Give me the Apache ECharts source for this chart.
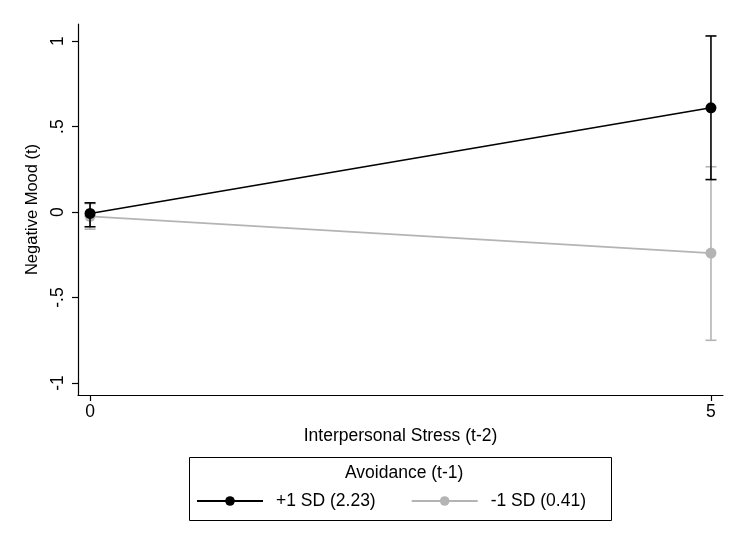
<!DOCTYPE html>
<html>
<head>
<meta charset="utf-8">
<script src="https://cdn.jsdelivr.net/npm/echarts@6/dist/echarts.min.js"></script>
<style>
html,body{margin:0;padding:0;background:#fff;}
#chart{width:733px;height:538px;}
</style>
</head>
<body>
<div id="chart"></div>
<script>
const xValues = [0, 5];
const highMean = [-0.008, 0.61];
const highLow = [-0.086, 0.19];
const highHigh = [0.054, 1.03];
const lowMean = [-0.025, -0.24];
const lowLow = [-0.1, -0.75];
const lowHigh = [0.05, 0.265];
const yTicks = [-1, -0.5, 0, 0.5, 1];
const xTicks = [0, 5];
const seriesNames = ['+1 SD (2.23)', '-1 SD (0.41)'];
const legendTitle = 'Avoidance (t-1)';
const xTitle = 'Interpersonal Stress (t-2)';
const yTitle = 'Negative Mood (t)';

const FONT = 'Liberation Sans, Arial, Helvetica, sans-serif';
const BLACK = '#000000';
const GRAY = '#b4b4b4';
const FS = 17.5;

function fmt(v){
  if (v === 0) return '0';
  let s = String(v);
  s = s.replace(/^0\./, '.').replace(/^-0\./, '-.');
  return s;
}

function errSeries(name, lows, highs, color){
  const data = xValues.map((x,i)=>[x, lows[i], highs[i]]);
  return {
    type: 'custom',
    name: name + ' ci',
    data: data,
    z: color === BLACK ? 4 : 2,
    silent: true,
    renderItem: function(params, api){
      const x = api.value(0);
      const lo = api.coord([x, api.value(1)]);
      const hi = api.coord([x, api.value(2)]);
      const hw = 5.5;
      const st = {stroke: color, lineWidth: 1.6};
      return {
        type: 'group',
        children: [
          {type:'line', shape:{x1:lo[0], y1:lo[1], x2:hi[0], y2:hi[1]}, style: st},
          {type:'line', shape:{x1:lo[0]-hw, y1:lo[1], x2:lo[0]+hw, y2:lo[1]}, style: st},
          {type:'line', shape:{x1:hi[0]-hw, y1:hi[1], x2:hi[0]+hw, y2:hi[1]}, style: st}
        ]
      };
    }
  };
}

const chart = echarts.init(document.getElementById('chart'), null, {renderer:'canvas'});
chart.setOption({
  backgroundColor: '#ffffff',
  animation: false,
  grid: {left: 78, right: 10, top: 24, bottom: 143, containLabel: false},
  xAxis: {
    type: 'value', min: -0.097, max: 5.097,
    name: xTitle, nameLocation: 'middle', nameGap: 32,
    nameTextStyle: {fontFamily: FONT, fontSize: FS, color: '#000'},
    axisLine: {show: true, onZero: false, lineStyle: {color: '#000', width: 1.2}},
    axisTick: {show: true, length: 6, customValues: xTicks, lineStyle: {color: '#000', width: 1.2}},
    axisLabel: {customValues: xTicks, fontFamily: FONT, fontSize: FS, color: '#000', margin: 8, formatter: fmt},
    splitLine: {show: false}
  },
  yAxis: {
    type: 'value', min: -1.07, max: 1.1,
    name: yTitle, nameLocation: 'middle', nameGap: 30,
    nameTextStyle: {fontFamily: FONT, fontSize: 16.5, color: '#000'},
    axisLine: {show: true, onZero: false, lineStyle: {color: '#000', width: 1.2}},
    axisTick: {show: true, length: 6, customValues: yTicks, lineStyle: {color: '#000', width: 1.2}},
    axisLabel: {customValues: yTicks, rotate: 90, fontFamily: FONT, fontSize: FS, color: '#000', margin: 11, formatter: fmt},
    splitLine: {show: false}
  },
  title: {
    text: legendTitle, left: 340, top: 459,
    textStyle: {fontFamily: FONT, fontSize: FS, fontWeight: 'normal', color: '#000'}
  },
  legend: {
    data: seriesNames,
    left: 191, top: 487,
    itemWidth: 66, itemHeight: 12, itemGap: 35,
    textStyle: {fontFamily: FONT, fontSize: FS, color: '#000', padding: [0,0,0,8]}
  },
  graphic: [{
    type: 'rect', left: 187, top: 455,
    shape: {width: 422, height: 63},
    style: {fill: 'none', stroke: '#000', lineWidth: 1}
  }],
  series: [
    errSeries(seriesNames[1], lowLow, lowHigh, GRAY),
    {
      type: 'line', name: seriesNames[1], z: 3,
      data: xValues.map((x,i)=>[x, lowMean[i]]),
      symbol: 'circle', symbolSize: 11,
      lineStyle: {color: GRAY, width: 1.6},
      itemStyle: {color: GRAY},
      emphasis: {disabled: true}
    },
    errSeries(seriesNames[0], highLow, highHigh, BLACK),
    {
      type: 'line', name: seriesNames[0], z: 5,
      data: xValues.map((x,i)=>[x, highMean[i]]),
      symbol: 'circle', symbolSize: 11,
      lineStyle: {color: BLACK, width: 1.6},
      itemStyle: {color: BLACK},
      emphasis: {disabled: true}
    }
  ]
});
</script>
</body>
</html>
